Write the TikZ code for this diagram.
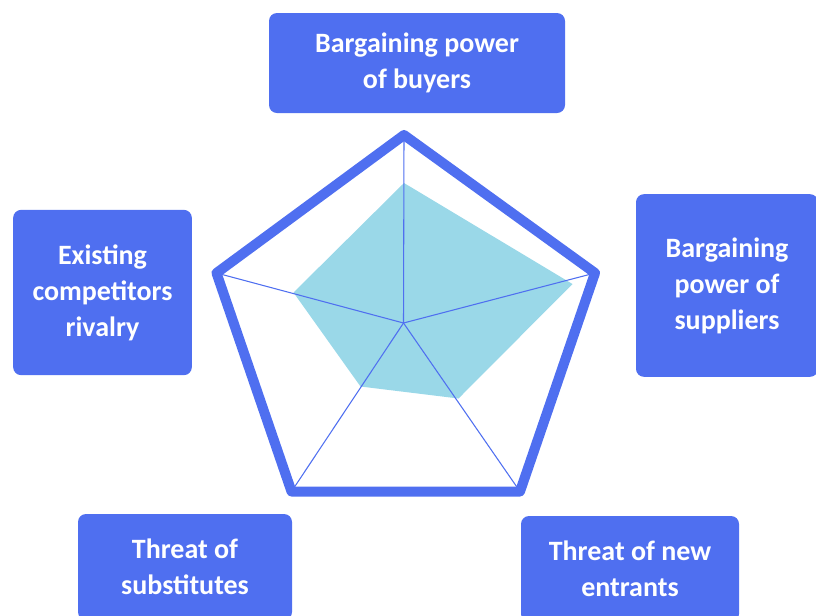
\documentclass[tikz,border=0pt]{standalone}
\usepackage{fontspec}
\setmainfont{Carlito}
\definecolor{forceblue}{RGB}{79,111,240}
\definecolor{scorefill}{RGB}{154,216,232}

\begin{document}
\begin{tikzpicture}[%
	x=0.75pt, y=-0.75pt,
	force/.style = {shape=rectangle, rounded corners=6pt, fill=forceblue, text=white, align=center,
	  inner sep=0pt, font=\bfseries\fontsize{21}{27}\selectfont},
	spoke/.style = {draw=forceblue, line width=0.8pt},
	rim/.style = {draw=forceblue, line width=7.5pt, line join=round}
	]
  \useasboundingbox (0,0) rectangle (816,615);
  \clip (0,0) rectangle (816,615);

  % the five forces
  \node [force, minimum width=222pt, minimum height=75pt] (buyers) at (417,63) {Bargaining power\\of buyers};
  \node [force, minimum width=136.5pt, minimum height=137pt] (suppliers) at (727,285.5) {Bargaining\\power of\\suppliers};
  \node [force, minimum width=163.5pt, minimum height=79.5pt] (entrants) at (630,569) {Threat of new\\entrants};
  \node [force, minimum width=160.5pt, minimum height=79.5pt] (substitutes) at (185,567) {Threat of\\substitutes};
  \node [force, minimum width=134pt, minimum height=124pt] (rivalry) at (102.5,292.5) {Existing\\competitors\\rivalry};

  % radar axes
  \coordinate (c) at (403.5,323);
  \coordinate (v1) at (404,135);
  \coordinate (v2) at (595,273);
  \coordinate (v3) at (520,491.5);
  \coordinate (v4) at (291.5,491.5);
  \coordinate (v5) at (216.5,273);

  % scores
  \fill [scorefill] (404,183) -- (572.5,284) -- (458.5,398.5) -- (360.5,386.5) -- (293.5,292.5) -- cycle;

  \foreach \v in {v1,v2,v3,v4,v5}
    \draw [spoke] (c) -- (\v);
  \draw [rim] (v1) -- (v2) -- (v3) -- (v4) -- (v5) -- cycle;
\end{tikzpicture}
\end{document}
